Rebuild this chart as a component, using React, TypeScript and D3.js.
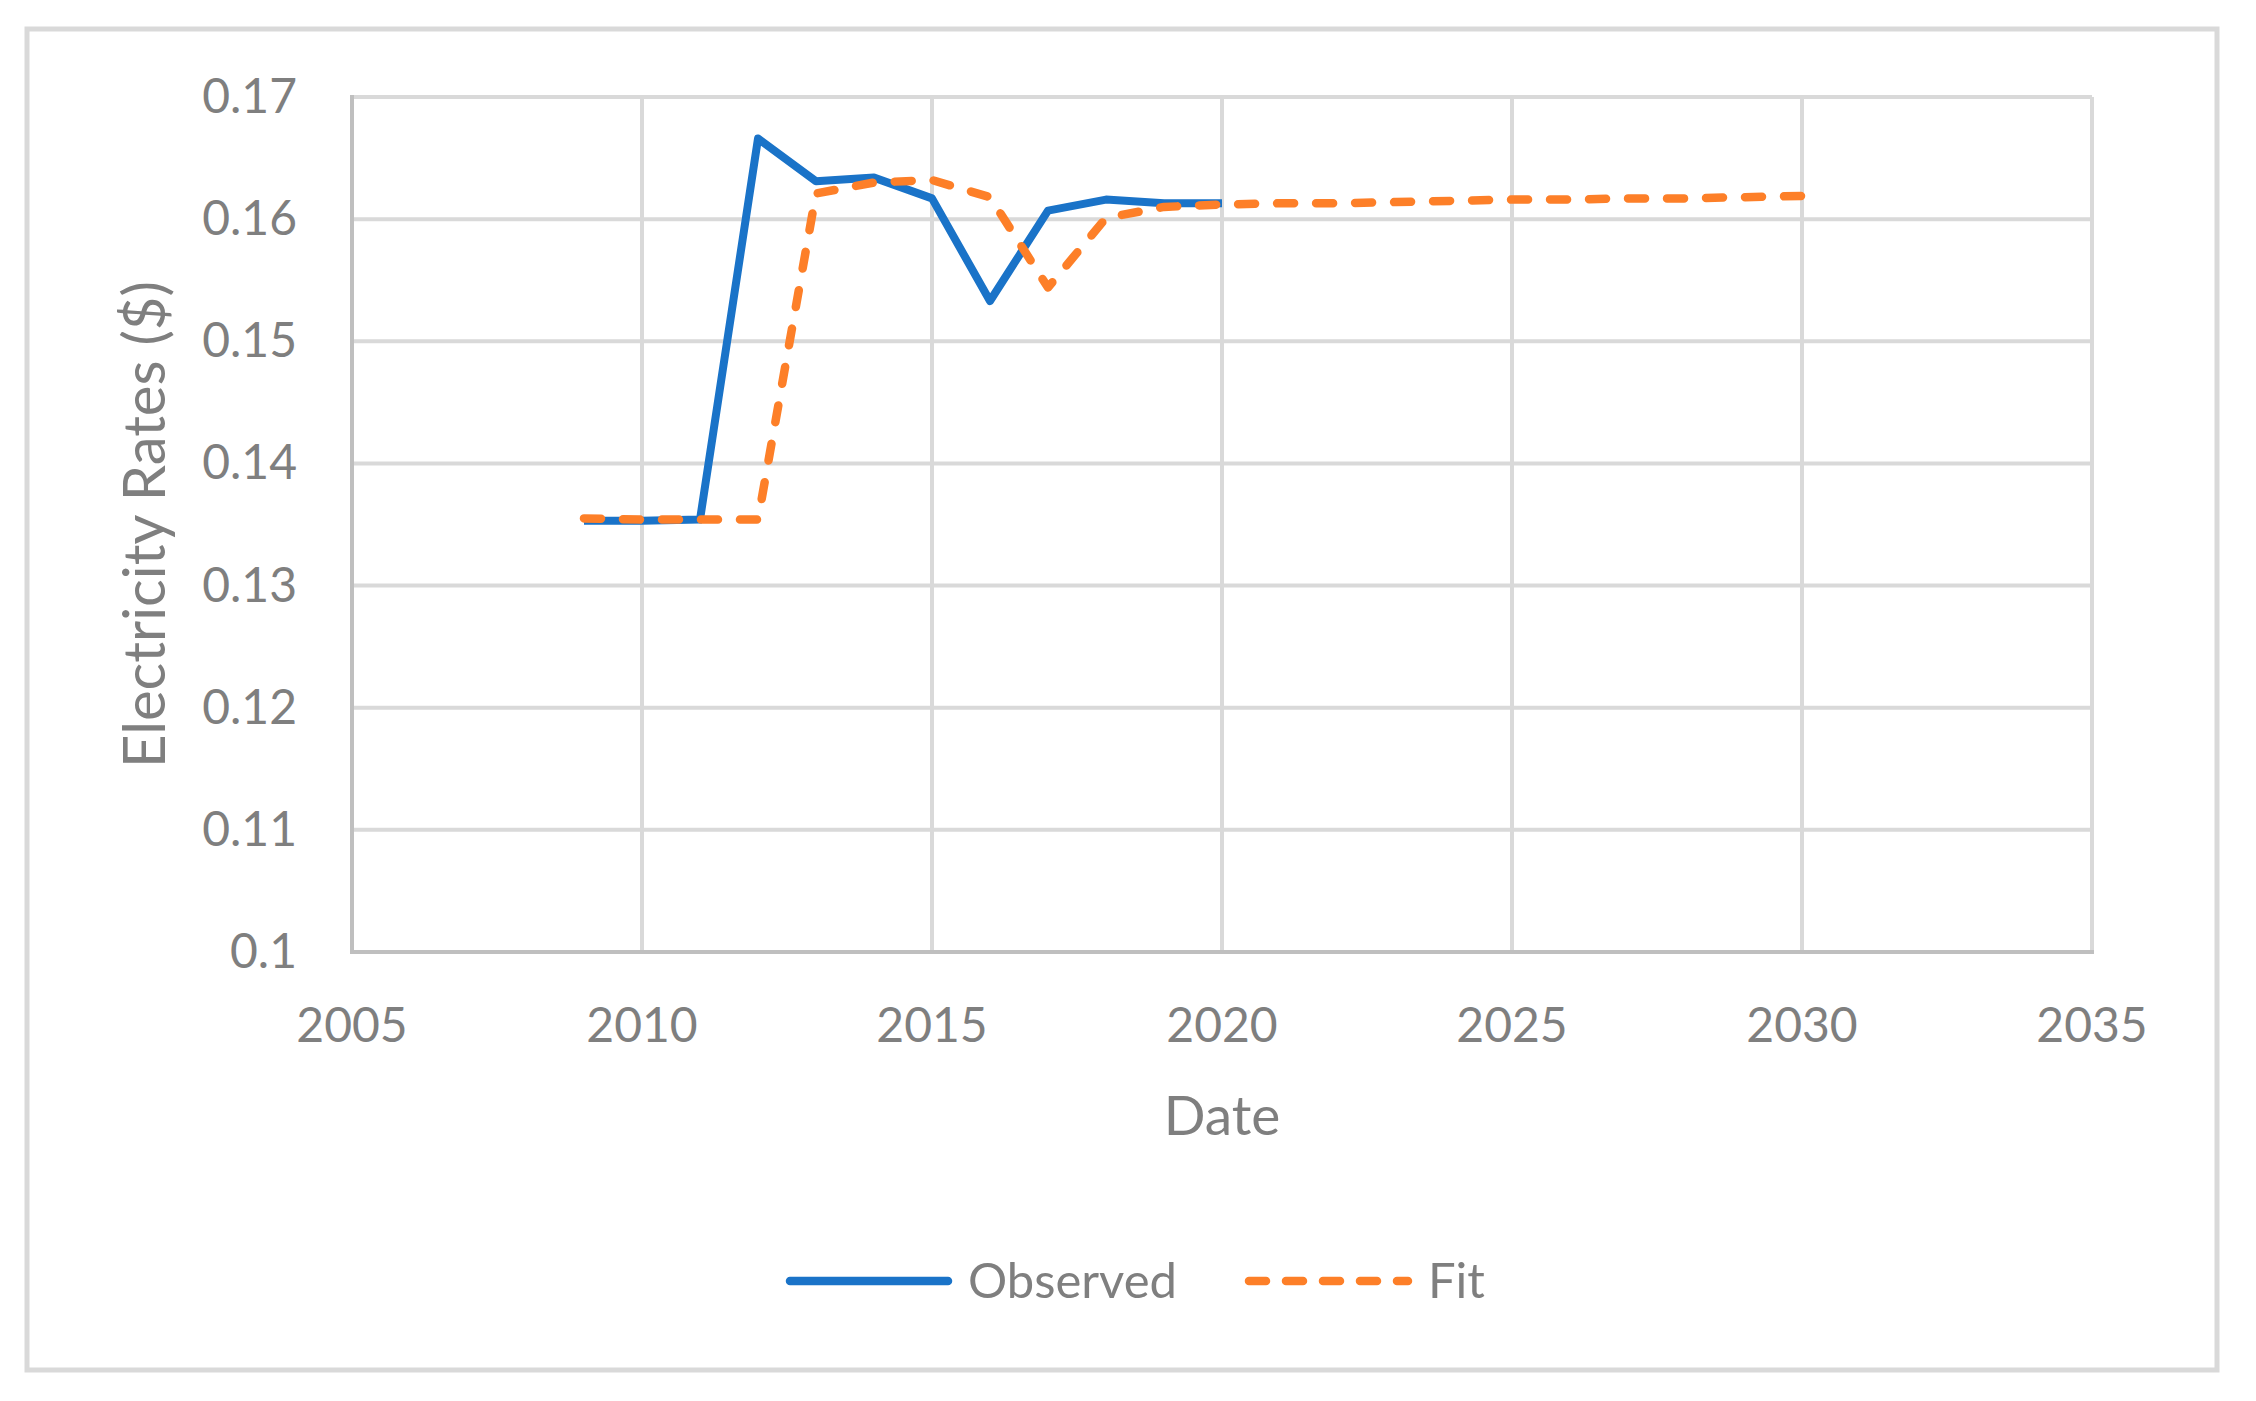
import * as d3 from "d3";

// years and values
const observedYears = [2009, 2010, 2011, 2012, 2013, 2014, 2015, 2016, 2017, 2018, 2019, 2020];
const observedValues = [0.1353, 0.1353, 0.1354, 0.1666, 0.1631, 0.1634, 0.1617, 0.1533, 0.1607, 0.1616, 0.1613, 0.1613];

const fitYears = [2009, 2010, 2011, 2012, 2013, 2014, 2015, 2016, 2017, 2018, 2019, 2020, 2021, 2022, 2023, 2024, 2025, 2026, 2027, 2028, 2029, 2030];
const fitValues = [0.1355, 0.1354, 0.1354, 0.1354, 0.1621, 0.163, 0.1632, 0.1618, 0.1544, 0.1601, 0.161, 0.1612, 0.1613, 0.1613, 0.1614, 0.1615, 0.1616, 0.1616, 0.1617, 0.1617, 0.1618, 0.1619];

const xTicks = [2005, 2010, 2015, 2020, 2025, 2030, 2035];
const yTicks = [0.1, 0.11, 0.12, 0.13, 0.14, 0.15, 0.16, 0.17];

const seriesNames = ["Observed", "Fit"];

export default function App() {
  const width = 2256;
  const height = 1401;
  const left = 352;
  const right = 2092;
  const top = 97;
  const bottom = 952;

  const font = "Lato, 'Open Sans', sans-serif";
  const textColor = "#7f7f7f";
  const gridColor = "#d9d9d9";
  const axisColor = "#bfbfbf";
  const blue = "#1a73c8";
  const orange = "#fd7f28";

  const xScale = d3.scaleLinear().domain([2005, 2035]).range([left, right]);
  const yScale = d3.scaleLinear().domain([0.1, 0.17]).range([bottom, top]);

  const line = d3
    .line<[number, number]>()
    .x((d) => xScale(d[0]))
    .y((d) => yScale(d[1]));

  const observed = observedYears.map((yr, i) => [yr, observedValues[i]] as [number, number]);
  const fit = fitYears.map((yr, i) => [yr, fitValues[i]] as [number, number]);

  return (
    <svg
      width={width}
      height={height}
      style={{ position: "absolute", left: 0, top: 0, background: "#fff" }}
    >
      <rect x={0} y={0} width={width} height={height} fill="#fff" />
      <rect x={27} y={29} width={2190} height={1341} fill="none" stroke={gridColor} strokeWidth={5} />

      {/* gridlines */}
      {yTicks.slice(1).map((t) => (
        <line key={"h" + t} x1={left} x2={right} y1={yScale(t)} y2={yScale(t)} stroke={gridColor} strokeWidth={4} />
      ))}
      {xTicks.slice(1).map((t) => (
        <line key={"v" + t} x1={xScale(t)} x2={xScale(t)} y1={top} y2={bottom} stroke={gridColor} strokeWidth={4} />
      ))}

      {/* axis lines */}
      <line x1={left} x2={left} y1={top - 2} y2={bottom} stroke={axisColor} strokeWidth={4} />
      <line x1={left - 2} x2={right + 2} y1={bottom} y2={bottom} stroke={axisColor} strokeWidth={4} />

      {/* tick labels */}
      {yTicks.map((t) => (
        <text
          key={"yl" + t}
          x={left - 55}
          y={yScale(t) + 16}
          textAnchor="end"
          fontFamily={font}
          fontSize={48}
          fill={textColor}
        >
          {String(+t.toFixed(2))}
        </text>
      ))}
      {xTicks.map((t) => (
        <text
          key={"xl" + t}
          x={xScale(t)}
          y={1042}
          textAnchor="middle"
          fontFamily={font}
          fontSize={48}
          fill={textColor}
        >
          {t}
        </text>
      ))}

      {/* axis titles */}
      <text x={(left + right) / 2} y={1135} textAnchor="middle" fontFamily={font} fontSize={55} fill={textColor}>
        Date
      </text>
      <text
        transform={`translate(165, ${(top + bottom) / 2}) rotate(-90)`}
        textAnchor="middle"
        fontFamily={font}
        fontSize={58}
        fill={textColor}
      >
        Electricity Rates ($)
      </text>

      {/* series */}
      <path d={line(observed) ?? ""} fill="none" stroke={blue} strokeWidth={8} strokeLinejoin="round" />
      <path
        d={line(fit) ?? ""}
        fill="none"
        stroke={orange}
        strokeWidth={8.5}
        strokeLinecap="round"
        strokeLinejoin="round"
        strokeDasharray="17 22"
      />

      {/* legend */}
      <g>
        <line x1={790} x2={948} y1={1281} y2={1281} stroke={blue} strokeWidth={8.5} strokeLinecap="round" />
        <text x={968} y={1298} fontFamily={font} fontSize={49} fill={textColor}>
          {seriesNames[0]}
        </text>
        <line
          x1={1249}
          x2={1408}
          y1={1281}
          y2={1281}
          stroke={orange}
          strokeWidth={8.5}
          strokeLinecap="round"
          strokeDasharray="17 20"
        />
        <text x={1428} y={1298} fontFamily={font} fontSize={49} fill={textColor}>
          {seriesNames[1]}
        </text>
      </g>
    </svg>
  );
}
